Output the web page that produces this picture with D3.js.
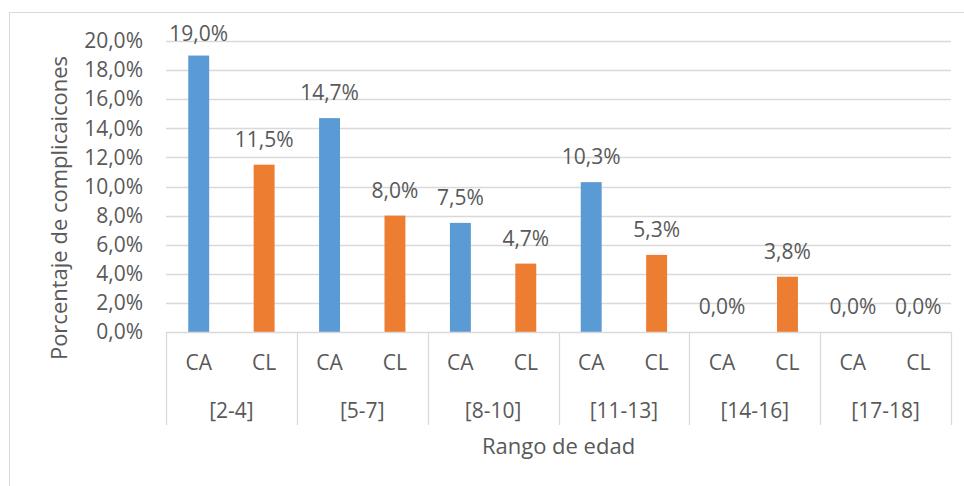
<!DOCTYPE html>
<html>
<head>
<meta charset="utf-8">
<script src="https://cdn.jsdelivr.net/npm/d3@7"></script>
<style>
	body { margin: 0; background: #fff; }
	text { font-family: "Open Sans", sans-serif; fill: #595959; }
</style>
</head>
<body>
<div id="wrapper"></div>
<script>

	// 1. Data

	const groups = ["[2-4]", "[5-7]", "[8-10]", "[11-13]", "[14-16]", "[17-18]"];
	const seriesNames = ["CA", "CL"];
	const valuesCA = [19.0, 14.7, 7.5, 10.3, 0.0, 0.0];
	const valuesCL = [11.5, 8.0, 4.7, 5.3, 3.8, 0.0];
	const yTicks = [0, 2, 4, 6, 8, 10, 12, 14, 16, 18, 20];

	const colors = { CA: "#5B9BD5", CL: "#ED7D31" };

	const bars = [];
	groups.forEach((g, i) => {
		bars.push({ group: g, series: "CA", key: g + "|CA", value: valuesCA[i] });
		bars.push({ group: g, series: "CL", key: g + "|CL", value: valuesCL[i] });
	});

	// 2. Dimensions

	let dimensions = {
		width: 964,
		height: 486,
		margin: { top: 41, right: 13, bottom: 154, left: 166 }
	};
	dimensions.boundedWidth = dimensions.width - dimensions.margin.left - dimensions.margin.right;
	dimensions.boundedHeight = dimensions.height - dimensions.margin.top - dimensions.margin.bottom;

	const labelSize = "21px";
	const titleSize = "22px";

	const wrapper = d3.select("#wrapper")
		.append("svg")
		.attr("width", dimensions.width)
		.attr("height", dimensions.height);

	// chart border
	wrapper.append("rect")
		.attr("x", 9.5)
		.attr("y", 12.5)
		.attr("width", 1000)
		.attr("height", 1000)
		.attr("fill", "none")
		.attr("stroke", "#d9d9d9");

	const bounds = wrapper.append("g")
		.attr("transform", `translate(${dimensions.margin.left}, ${dimensions.margin.top})`);

	// 3. Scales

	const xScale = d3.scaleBand()
		.domain(bars.map(d => d.key))
		.range([0, dimensions.boundedWidth])
		.paddingInner(0.68)
		.paddingOuter(0.34);

	const groupScale = d3.scaleBand()
		.domain(groups)
		.range([0, dimensions.boundedWidth]);

	const yScale = d3.scaleLinear()
		.domain([0, 20])
		.range([dimensions.boundedHeight, 0]);

	const fmt = v => d3.format(".1f")(v).replace(".", ",") + "%";

	// 4. Gridlines + y axis

	bounds.append("g")
		.selectAll("line")
		.data(yTicks.filter(d => d > 0))
		.join("line")
		.attr("x1", 0)
		.attr("x2", dimensions.boundedWidth)
		.attr("y1", d => Math.round(yScale(d)) + 0.5)
		.attr("y2", d => Math.round(yScale(d)) + 0.5)
		.attr("stroke", "#d9d9d9")
		.attr("stroke-width", 1.3);

	const yAxis = d3.axisLeft(yScale)
		.tickValues(yTicks)
		.tickSize(0)
		.tickPadding(23)
		.tickFormat(fmt);

	const yAxisGroup = bounds.append("g").call(yAxis);
	yAxisGroup.select(".domain").remove();
	yAxisGroup.selectAll("text")
		.style("font-size", labelSize)
		.attr("font-family", null);

	// 5. Bars

	bounds.selectAll(".bar")
		.data(bars)
		.join("rect")
		.attr("class", "bar")
		.attr("x", d => xScale(d.key))
		.attr("width", xScale.bandwidth())
		.attr("y", d => yScale(d.value))
		.attr("height", d => dimensions.boundedHeight - yScale(d.value))
		.attr("fill", d => colors[d.series]);

	bounds.selectAll(".value-label")
		.data(bars)
		.join("text")
		.attr("class", "value-label")
		.attr("x", d => xScale(d.key) + xScale.bandwidth() / 2)
		.attr("y", d => Math.max(yScale(d.value) - 18, 0))
		.attr("text-anchor", "middle")
		.style("font-size", labelSize)
		.text(d => fmt(d.value));

	// 6. Category axis (two levels)

	const catGroup = bounds.append("g")
		.attr("transform", `translate(0, ${dimensions.boundedHeight})`);

	catGroup.append("line")
		.attr("x1", 0)
		.attr("x2", dimensions.boundedWidth)
		.attr("y1", 0.5)
		.attr("y2", 0.5)
		.attr("stroke", "#d9d9d9")
		.attr("stroke-width", 1.3);

	catGroup.selectAll(".sep")
		.data(groups.map(g => groupScale(g)).concat([dimensions.boundedWidth]))
		.join("line")
		.attr("class", "sep")
		.attr("x1", d => Math.round(d) + 0.5)
		.attr("x2", d => Math.round(d) + 0.5)
		.attr("y1", 0)
		.attr("y2", 93)
		.attr("stroke", "#d9d9d9")
		.attr("stroke-width", 1.3);

	catGroup.selectAll(".series-label")
		.data(bars)
		.join("text")
		.attr("class", "series-label")
		.attr("x", d => xScale(d.key) + xScale.bandwidth() / 2)
		.attr("y", 38)
		.attr("text-anchor", "middle")
		.style("font-size", labelSize)
		.text(d => d.series);

	catGroup.selectAll(".group-label")
		.data(groups)
		.join("text")
		.attr("class", "group-label")
		.attr("x", d => groupScale(d) + groupScale.bandwidth() / 2)
		.attr("y", 86)
		.attr("text-anchor", "middle")
		.style("font-size", labelSize)
		.text(d => d);

	// 7. Axis titles

	wrapper.append("text")
		.attr("x", dimensions.margin.left + dimensions.boundedWidth / 2)
		.attr("y", 454)
		.attr("text-anchor", "middle")
		.style("font-size", titleSize)
		.text("Rango de edad");

	wrapper.append("text")
		.attr("transform", `translate(67, 208) rotate(-90)`)
		.attr("text-anchor", "middle")
		.style("font-size", titleSize)
		.text("Porcentaje de complicaicones");

</script>
</body>
</html>
